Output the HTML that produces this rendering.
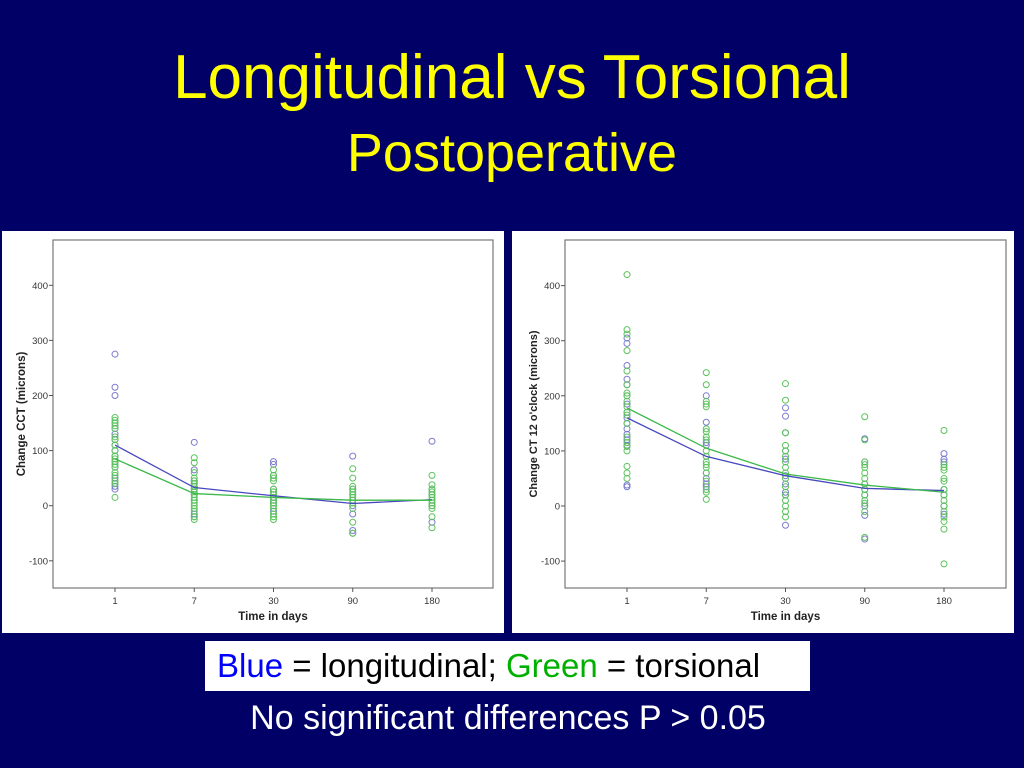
<!DOCTYPE html>
<html><head><meta charset="utf-8"><style>
html,body{margin:0;padding:0;}
body{width:1024px;height:768px;background:#000066;position:relative;overflow:hidden;font-family:"Liberation Sans",Arial,sans-serif;}
.t1{position:absolute;left:0;width:1024px;text-align:center;top:42px;font-size:62px;color:#ffff00;line-height:72px;}
.t2{position:absolute;left:0;width:1024px;text-align:center;top:122px;font-size:54px;color:#ffff00;line-height:62px;}
.legend{position:absolute;left:205px;top:641px;width:605px;height:50px;background:#fff;font-size:33px;line-height:50px;color:#000;box-sizing:border-box;padding-left:12px;white-space:nowrap;}
.note{position:absolute;left:0;width:1016px;text-align:center;top:698px;font-size:34px;color:#fff;line-height:40px;}
svg{position:absolute;left:0;top:0;}
</style></head><body>
<div class="t1">Longitudinal vs Torsional</div>
<div class="t2">Postoperative</div>
<svg id="chart" width="1024" height="768"></svg>
<div class="legend"><span style="color:#0000ff">Blue</span> = longitudinal; <span style="color:#00b000">Green</span> = torsional</div>
<div class="note">No significant differences P &gt; 0.05</div>
<script>
const categories = ["1","7","30","90","180"];
const yTicks = [400,300,200,100,0,-100];
// Left chart: Change CCT
const leftBlueMeans = [110,33,18,4,11];
const leftGreenMeans = [85,22,15,10,10];
const leftBlue = [
 [275,215,200,150,140,130,120,110,100,90,80,70,50,40,35,30],
 [115,65,45,40,35,30,20,10,-15,-20],
 [80,75,55,30,25,15,10,5,-10],
 [90,30,20,10,0,-15,-45,-50],
 [117,30,20,10,0,-30]
];
const leftGreen = [
 [160,155,150,145,140,125,120,110,100,90,85,80,75,70,60,55,45,40,15],
 [87,78,60,50,45,40,35,30,25,20,15,10,5,0,-5,-10,-20,-25],
 [65,55,50,45,30,25,20,15,10,5,0,-5,-15,-20,-25],
 [67,50,35,30,25,20,15,10,5,-5,-30,-50],
 [55,38,30,25,20,15,10,5,0,-5,-20,-40]
];
// Right chart: Change CT 12 o'clock
const rightBlueMeans = [160,90,55,32,28];
const rightGreenMeans = [178,105,58,38,25];
const rightBlue = [
 [305,295,255,230,220,200,185,170,160,150,140,130,120,110,38,35],
 [200,152,115,110,90,60,50,40,35],
 [178,163,133,100,85,55,40,25,20,-35],
 [122,80,40,30,20,0,-17,-60],
 [95,85,80,30,20,0,-15]
];
const rightGreen = [
 [420,320,312,282,245,220,205,200,190,180,170,165,150,125,115,108,100,72,60,50],
 [242,220,190,185,180,140,135,125,120,100,90,80,75,70,60,45,30,25,12],
 [222,192,133,110,100,90,80,70,60,50,35,20,10,0,-10,-20],
 [162,120,80,75,70,60,50,40,30,20,10,5,-10,-57],
 [137,75,70,65,50,45,30,20,10,0,-10,-20,-28,-42,-105]
];

const NS="http://www.w3.org/2000/svg";
const svg=document.getElementById('chart');
function mk(tag,attrs,parent){const e=document.createElementNS(NS,tag);for(const k in attrs)e.setAttribute(k,attrs[k]);(parent||svg).appendChild(e);return e;}

function drawChart(cfg){
  const g=mk('g',{});
  
  
  const bg=mk('rect',{x:cfg.px,y:231,width:502,height:402,fill:'#fff'},g);
  
  
  const fr=mk('rect',{x:cfg.fx0,y:240,width:cfg.fx1-cfg.fx0,height:348,fill:'none',stroke:'#777','stroke-width':1.2},g);
  
  
  const yS=v=>cfg.y0-v*cfg.k;
  const xS=i=>cfg.xs[0]+i*(cfg.xs[1]-cfg.xs[0]);
  yTicks.forEach(t=>{
    const y=yS(t);
    mk('line',{x1:cfg.fx0-4,x2:cfg.fx0,y1:y,y2:y,stroke:'#555'},g);
    const tx=mk('text',{x:cfg.fx0-5,y:y+3.5,'font-size':9.5,'text-anchor':'end',fill:'#333'},g);
    tx.textContent=t;
    
    
  });
  categories.forEach((c,i)=>{
    const x=xS(i);
    mk('line',{x1:x,x2:x,y1:588,y2:592,stroke:'#555'},g);
    const tx=mk('text',{x:x,y:604,'font-size':9.5,'text-anchor':'middle',fill:'#333'},g);
    tx.textContent=c;
    
    
  });
  const xt=mk('text',{x:(cfg.fx0+cfg.fx1)/2,y:620,'font-size':11.5,'font-weight':'bold','text-anchor':'middle',fill:'#222'},g);
  xt.textContent='Time in days';
  
  
  const yt=mk('text',{x:0,y:0,'font-size':cfg.ytfs,'font-weight':'bold','text-anchor':'middle',fill:'#222',transform:`translate(${cfg.ytx},${cfg.yty}) rotate(-90)`},g);
  yt.textContent=cfg.ytitle;
  
  
  function pts(arr,col,nm){
    arr.forEach((vals,i)=>vals.forEach(v=>{
      const c=mk('circle',{cx:xS(i),cy:yS(v),r:3,fill:'none',stroke:col,'stroke-width':1},g);
      
      
    }));
  }
  pts(cfg.blue,'#7a7ad0','point-longitudinal');
  pts(cfg.green,'#5ac35a','point-torsional');
  function line(m,col,nm){
    const p=mk('polyline',{points:m.map((v,i)=>xS(i)+','+yS(v)).join(' '),fill:'none',stroke:col,'stroke-width':1.3},g);
    
    
  }
  line(cfg.bm,'#4848c0','mean-line-longitudinal');
  line(cfg.gm,'#3cb84a','mean-line-torsional');
}
drawChart({name:'left-chart-cct',px:2,fx0:53,fx1:493,y0:505.7,k:0.551,xs:[115,194.25],ytitle:'Change CCT (microns)',ytfs:11.5,ytx:25,yty:414,blue:leftBlue,green:leftGreen,bm:leftBlueMeans,gm:leftGreenMeans});
drawChart({name:'right-chart-ct12',px:512,fx0:565,fx1:1006,y0:506,k:0.551,xs:[627,706.25],ytitle:"Change CT 12 o'clock (microns)",ytfs:11,ytx:537,yty:414,blue:rightBlue,green:rightGreen,bm:rightBlueMeans,gm:rightGreenMeans});
</script>
</body></html>
